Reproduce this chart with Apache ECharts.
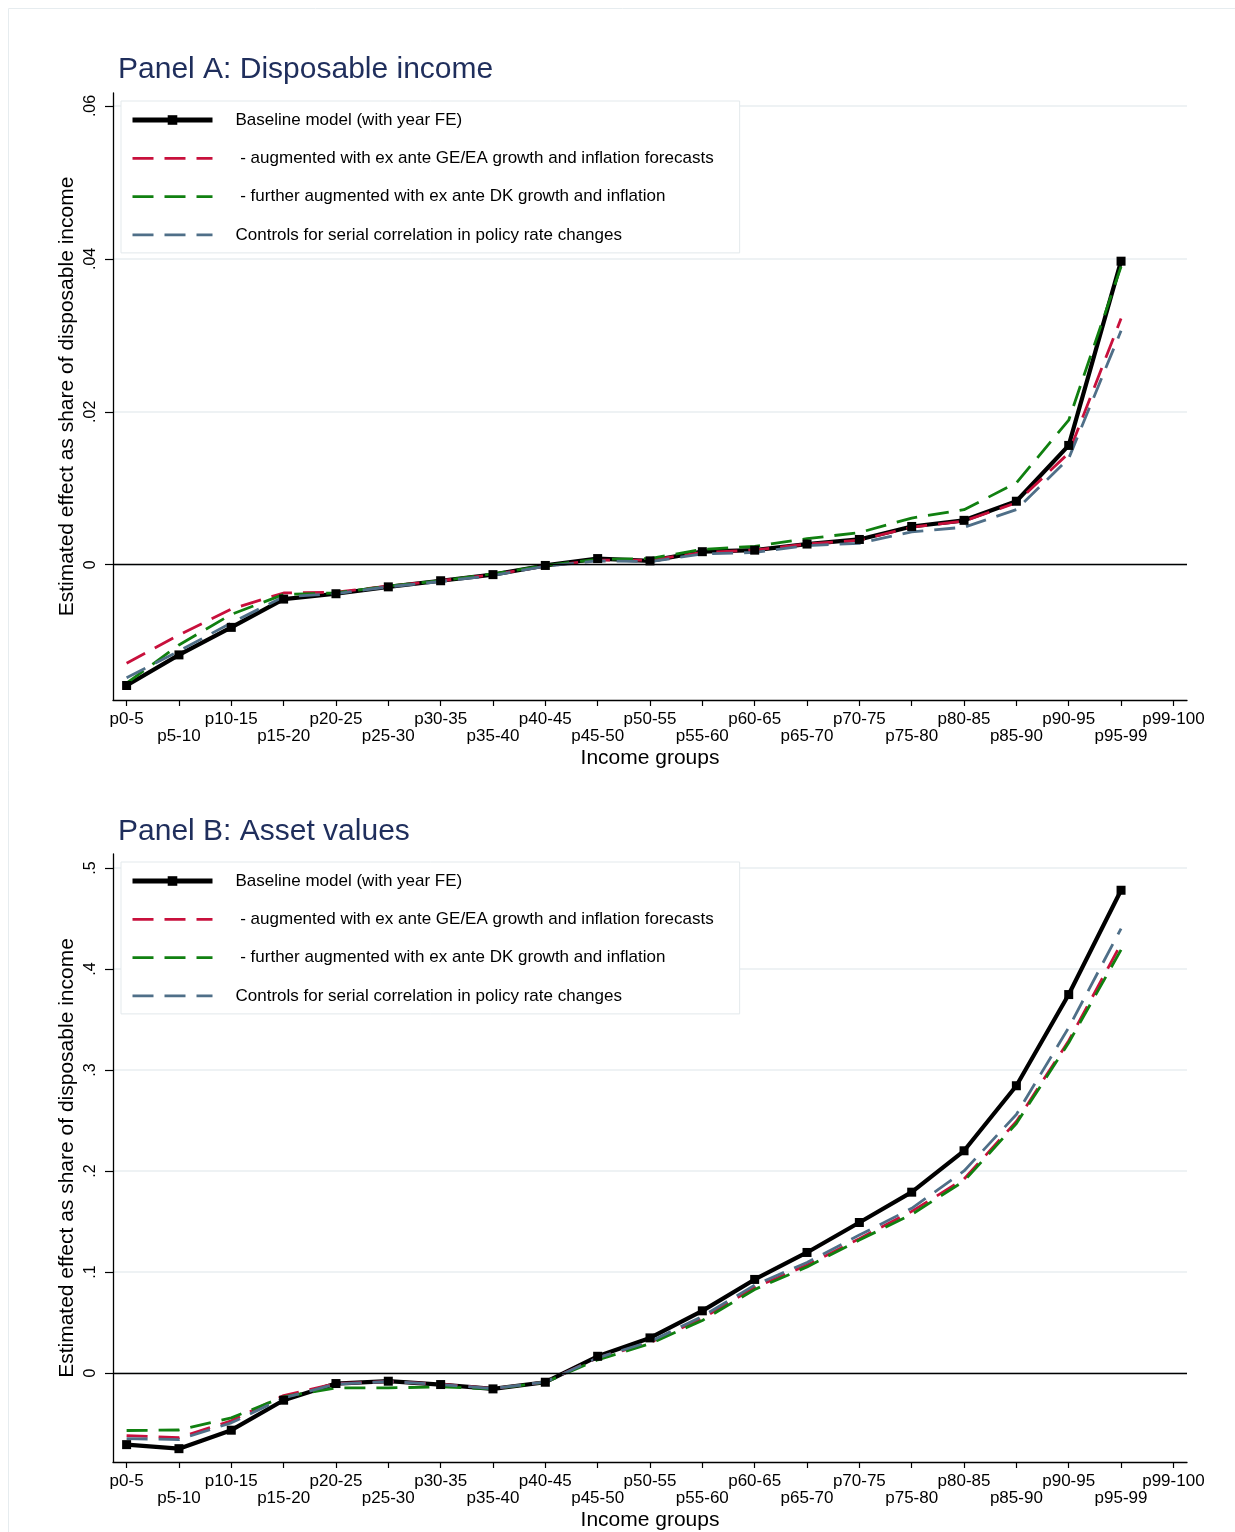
<!DOCTYPE html>
<html>
<head>
<meta charset="utf-8">
<script src="https://cdn.jsdelivr.net/npm/echarts@6/dist/echarts.min.js"></script>
<style>
html,body{margin:0;padding:0;background:#fff;}
#chart{width:1235px;height:1532px;}
</style>
</head>
<body>
<div id="chart"></div>
<script>
// ---------- data ----------
const categories = ['p0-5','p5-10','p10-15','p15-20','p20-25','p25-30','p30-35','p35-40','p40-45','p45-50',
  'p50-55','p55-60','p60-65','p65-70','p70-75','p75-80','p80-85','p85-90','p90-95','p95-99','p99-100'];

const seriesNames = [
  'Baseline model (with year FE)',
  ' - augmented with ex ante GE/EA growth and inflation forecasts',
  ' - further augmented with ex ante DK growth and inflation',
  'Controls for serial correlation in policy rate changes'
];

// Panel A: Disposable income
const baselineA = [-0.0158,-0.0118,-0.0082,-0.0045,-0.0038,-0.0029,-0.0021,-0.0013,-0.0001,0.0008,
  0.0005,0.0017,0.0019,0.0027,0.0033,0.0050,0.0058,0.0083,0.0156,0.0397];
const augGeA = [-0.0129,-0.0092,-0.0058,-0.0037,-0.0036,-0.0028,-0.0021,-0.0013,-0.0002,0.0006,
  0.0006,0.0016,0.0019,0.0027,0.0032,0.0049,0.0057,0.0081,0.0146,0.0322];
const augDkA = [-0.0155,-0.0105,-0.0065,-0.0039,-0.0037,-0.0028,-0.0021,-0.0012,-0.0001,0.0007,
  0.0008,0.0020,0.0024,0.0034,0.0042,0.0061,0.0072,0.0107,0.0189,0.0390];
const serialA = [-0.0148,-0.0113,-0.0076,-0.0042,-0.0038,-0.0029,-0.0022,-0.0014,-0.0002,0.0005,
  0.0004,0.0014,0.0016,0.0025,0.0028,0.0043,0.0049,0.0072,0.0139,0.0306];

// Panel B: Asset values
const baselineB = [-0.0710,-0.0750,-0.0567,-0.0270,-0.0105,-0.0082,-0.0115,-0.0158,-0.0092,0.0165,
  0.0347,0.0615,0.0926,0.1193,0.1490,0.1790,0.2200,0.2844,0.3747,0.4780];
const augGeB = [-0.0620,-0.0640,-0.0474,-0.0224,-0.0105,-0.0085,-0.0110,-0.0155,-0.0090,0.0150,
  0.0300,0.0540,0.0846,0.1068,0.1330,0.1600,0.1920,0.2490,0.3290,0.4250];
const augDkB = [-0.0570,-0.0565,-0.0445,-0.0237,-0.0148,-0.0148,-0.0138,-0.0158,-0.0092,0.0130,
  0.0290,0.0520,0.0827,0.1050,0.1316,0.1570,0.1900,0.2470,0.3270,0.4190];
const serialB = [-0.0650,-0.0660,-0.0494,-0.0247,-0.0110,-0.0085,-0.0115,-0.0155,-0.0090,0.0150,
  0.0310,0.0560,0.0870,0.1094,0.1365,0.1630,0.2000,0.2560,0.3420,0.4400];

const yTicksA = [0, 0.02, 0.04, 0.06];
const yTicksB = [0, 0.1, 0.2, 0.3, 0.4, 0.5];

const titles = ['Panel A: Disposable income', 'Panel B: Asset values'];
const yName = 'Estimated effect as share of disposable income';
const xName = 'Income groups';

// ---------- styling ----------
const FONT = '"Liberation Sans", Arial, Helvetica, sans-serif';
const colors = ['#000000', '#c8103c', '#108010', '#4f6f88'];
const GRID = '#e9eef1';

function stataNum(v) {
  if (v === 0) return '0';
  let s = String(+v.toFixed(4));
  return s.replace(/^0\./, '.').replace(/^-0\./, '-.');
}

function pairs(arr) { return arr.map((v, i) => [i, v]); }

const xIdx = categories.map((c, i) => i);
const xEven = xIdx.filter(i => i % 2 === 0);
const xOdd = xIdx.filter(i => i % 2 === 1);
const X_MIN = -0.26, X_MAX = categories.length - 1 + 0.26;

function labelCfg(values, margin) {
  return {
    customValues: values, showMaxLabel: true, showMinLabel: true, hideOverlap: false,
    margin: margin, color: '#000', fontFamily: FONT, fontSize: 17,
    formatter: (v) => categories[Math.round(v)]
  };
}

function makeX(gi) {
  // main axis: line, ticks, even labels, axis title
  const main = {
    type: 'value', gridIndex: gi, position: 'bottom', min: X_MIN, max: X_MAX,
    axisLine: {show: true, onZero: false, lineStyle: {color: '#000', width: 1.3}},
    axisTick: {show: true, customValues: xIdx, length: 6, lineStyle: {color: '#000', width: 1.2}},
    axisLabel: labelCfg(xEven, 11),
    splitLine: {show: false},
    name: xName, nameLocation: 'middle', nameGap: 48, nameMoveOverlap: false,
    nameTextStyle: {color: '#000', fontFamily: FONT, fontSize: 21}
  };
  // secondary axis: staggered odd labels only
  const odd = {
    type: 'value', gridIndex: gi, position: 'bottom', offset: 0, min: X_MIN, max: X_MAX,
    axisLine: {show: false, onZero: false},
    axisTick: {show: false},
    axisLabel: labelCfg(xOdd, 28),
    splitLine: {show: false}
  };
  return [main, odd];
}

function makeY(gi, min, max, ticks) {
  return {
    type: 'value', gridIndex: gi, min: min, max: max,
    axisLine: {show: true, onZero: false, lineStyle: {color: '#000', width: 1.3}},
    axisTick: {show: true, customValues: ticks, length: 8, lineStyle: {color: '#000', width: 1.2}},
    axisLabel: {customValues: ticks, rotate: 90, margin: 14, color: '#000', fontFamily: FONT, fontSize: 16,
      formatter: (v) => stataNum(v)},
    splitLine: {show: true, lineStyle: {color: GRID, width: 1.5}},
    name: yName, nameLocation: 'middle', nameGap: 35, nameRotate: 90, nameMoveOverlap: false,
    nameTextStyle: {color: '#000', fontFamily: FONT, fontSize: 21}
  };
}

function makeSeries(gi, data) {
  return data.map((arr, k) => {
    const base = k === 0;
    const s = {
      type: 'line', name: seriesNames[k], xAxisIndex: gi * 2, yAxisIndex: gi,
      data: pairs(arr), animation: false, silent: true,
      symbol: base ? 'rect' : 'none', symbolSize: 9, showSymbol: base,
      itemStyle: {color: colors[k]},
      lineStyle: {color: colors[k], width: base ? 4.2 : 2.8, type: base ? 'solid' : [21, 11], cap: 'butt'},
      emphasis: {disabled: true}
    };
    if (base) {
      s.markLine = {silent: true, symbol: ['none', 'none'], label: {show: false},
        lineStyle: {color: '#000', width: 1.3, type: 'solid'},
        data: [{yAxis: 0}], animation: false};
    }
    return s;
  });
}

function legendData() {
  return seriesNames.map((n, k) => k === 0
    ? {name: n, lineStyle: {width: 5}}
    : {name: n, lineStyle: {width: 2.8}, itemStyle: {opacity: 0}});
}

function makeLegend(top) {
  return {
    show: true, orient: 'vertical', left: 121, top: top,
    data: legendData(),
    itemWidth: 80, itemHeight: 12, itemGap: 18.3,
    padding: [9, 26, 8, 9],
    backgroundColor: '#fff', borderColor: '#e3e9ec', borderWidth: 1, borderRadius: 0,
    selectedMode: false,
    textStyle: {color: '#000', fontFamily: FONT, fontSize: 17, lineHeight: 20, padding: [0, 0, 0, 18]}
  };
}

const chart = echarts.init(document.getElementById('chart'), null, {renderer: 'canvas'});
chart.setOption({
  animation: false,
  backgroundColor: '#fff',
  graphic: [{type: 'rect', left: 6, top: 6, shape: {width: 1240, height: 1540},
    style: {fill: 'none', stroke: '#e6ecef', lineWidth: 1}, silent: true, z: -10}],
  title: [
    {text: titles[0], left: 118, top: 55, padding: 0,
      textStyle: {color: '#1f2e5c', fontFamily: FONT, fontSize: 30, fontWeight: 'normal'}},
    {text: titles[1], left: 118, top: 817, padding: 0,
      textStyle: {color: '#1f2e5c', fontFamily: FONT, fontSize: 30, fontWeight: 'normal'}}
  ],
  legend: [makeLegend(101), makeLegend(862)],
  grid: [
    {left: 113, top: 93, right: 48, height: 607, containLabel: false},
    {left: 113, top: 854, right: 48, height: 608, containLabel: false}
  ],
  xAxis: [].concat(makeX(0), makeX(1)),
  yAxis: [makeY(0, -0.0177, 0.0617, yTicksA), makeY(1, -0.0882, 0.5139, yTicksB)],
  series: [].concat(
    makeSeries(0, [baselineA, augGeA, augDkA, serialA]),
    makeSeries(1, [baselineB, augGeB, augDkB, serialB])
  )
});
</script>
</body>
</html>
